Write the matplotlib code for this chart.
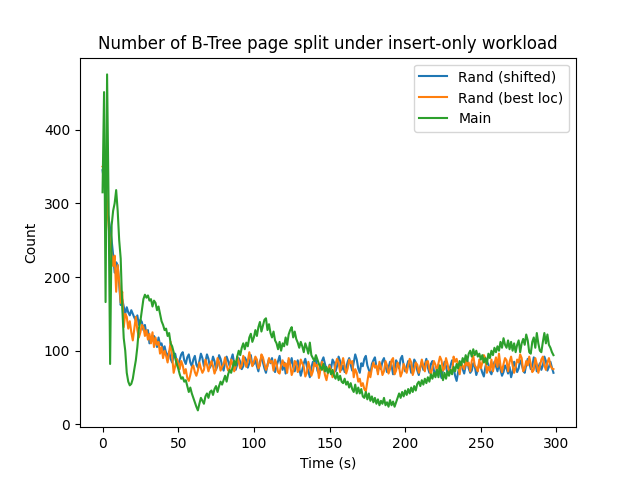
import numpy as np
import matplotlib
matplotlib.use("Agg")
import matplotlib.pyplot as plt

rand_shifted = [
    345, 330, 310, 290, 280, 266, 250, 230, 206, 220,
    216, 190, 162, 170, 160, 150, 159, 152, 148, 155,
    150, 145, 141, 148, 135, 142, 139, 128, 135, 122,
    128, 110, 118, 114, 120, 114, 105, 118, 108, 110,
    100, 106, 97, 92, 99, 89, 84, 93, 96, 86,
    80, 88, 95, 98, 87, 82, 91, 95, 84, 79,
    88, 93, 81, 77, 86, 96, 90, 79, 85, 95,
    89, 77, 82, 92, 86, 74, 80, 94, 89, 80,
    73, 84, 92, 86, 79, 88, 95, 83, 74, 81,
    90, 85, 75, 79, 91, 87, 77, 83, 94, 80,
    82, 88, 79, 72, 85, 91, 84, 76, 70, 81,
    89, 83, 90, 77, 71, 79, 86, 93, 80, 74,
    84, 69, 75, 87, 82, 90, 78, 72, 80, 87,
    76, 66, 74, 83, 89, 79, 72, 64, 77, 85,
    80, 88, 73, 69, 78, 86, 91, 82, 75, 70,
    81, 76, 88, 84, 72, 79, 92, 86, 74, 80,
    71, 77, 85, 90, 81, 73, 84, 95, 88, 76,
    70, 83, 79, 89, 93, 80, 74, 68, 82, 87,
    91, 78, 72, 81, 75, 86, 90, 79, 71, 77,
    85, 80, 68, 74, 87, 83, 76, 89, 93, 80,
    72, 79, 86, 81, 70, 76, 88, 84, 73, 67,
    78, 85, 74, 81, 89, 77, 70, 82, 86, 73,
    66, 75, 81, 70, 63, 74, 85, 79, 68, 73,
    80, 87, 76, 66, 59, 71, 78, 84, 75, 69,
    80, 88, 76, 70, 73, 83, 79, 67, 74, 84,
    77, 70, 65, 78, 86, 81, 72, 68, 76, 85,
    79, 72, 83, 74, 66, 71, 80, 76, 69, 78,
    64, 72, 85, 79, 71, 76, 87, 82, 73, 70,
    81, 89, 84, 75, 79, 91, 85, 72, 77, 83,
    74, 80, 92, 86, 73, 78, 85, 77, 70,
]

rand_best = [
    350, 352, 330, 300, 270, 245, 230, 215, 229, 180,
    216, 195, 165, 180, 132, 150, 146, 130, 140, 125,
    114, 130, 146, 128, 118, 125, 135, 132, 120, 128,
    115, 123, 110, 125, 105, 118, 108, 112, 96, 105,
    90, 100, 93, 84, 98, 112, 92, 70, 79, 89,
    84, 75, 86, 80, 69, 75, 63, 59, 67, 77,
    80, 71, 66, 73, 84, 76, 70, 74, 88, 81,
    72, 80, 86, 79, 69, 75, 90, 84, 73, 78,
    82, 91, 80, 73, 76, 88, 81, 72, 79, 92,
    85, 76, 80, 93, 85, 78, 86, 98, 87, 79,
    85, 92, 88, 76, 80, 95, 91, 82, 74, 79,
    90, 84, 86, 73, 88, 82, 71, 69, 80, 87,
    79, 83, 70, 90, 81, 67, 73, 86, 84, 71,
    75, 88, 83, 78, 65, 70, 85, 77, 66, 72,
    84, 79, 81, 63, 74, 85, 78, 67, 60, 71,
    80, 73, 64, 70, 82, 89, 84, 71, 81, 90,
    79, 69, 76, 88, 83, 86, 64, 75, 70, 58,
    62, 52, 56, 48, 45, 58, 71, 64, 76, 84,
    77, 80, 68, 85, 78, 67, 72, 86, 80, 69,
    75, 87, 90, 68, 73, 84, 78, 65, 71, 82,
    76, 70, 80, 89, 84, 67, 74, 84, 81, 70,
    77, 88, 79, 72, 85, 86, 75, 68, 77, 86,
    81, 72, 83, 92, 87, 73, 76, 90, 82, 71,
    74, 70, 92, 85, 89, 80, 68, 83, 79, 75,
    88, 80, 84, 72, 86, 93, 80, 77, 72, 88,
    76, 84, 94, 90, 70, 78, 73, 88, 72, 82,
    91, 78, 96, 80, 71, 82, 90, 87, 72, 85,
    92, 80, 70, 78, 88, 84, 95, 90, 72, 76,
    86, 80, 92, 82, 71, 74, 90, 82, 70, 78,
    88, 92, 80, 74, 84, 90, 80, 76, 75,
]

main = [
    315, 451, 166, 475, 300, 82, 270, 290, 300, 318,
    290, 250, 225, 160, 117, 100, 70, 58, 53, 55,
    62, 75, 87, 105, 130, 140, 155, 170, 176, 172,
    175, 168, 170, 160, 168, 165, 155, 160, 150, 140,
    135, 128, 130, 120, 124, 110, 106, 98, 90, 82,
    76, 68, 62, 64, 58, 60, 52, 44, 50, 42,
    36, 30, 24, 19, 28, 36, 32, 28, 38, 42,
    36, 44, 46, 40, 48, 52, 44, 52, 58, 54,
    60, 66, 58, 68, 74, 70, 78, 86, 80, 92,
    100, 94, 104, 110, 102, 111, 106, 118, 123, 112,
    118, 128, 120, 132, 139, 126, 134, 142, 144, 128,
    136, 124, 118, 126, 114, 110, 102, 112, 100, 110,
    106, 118, 108, 122, 128, 132, 118, 126, 116, 111,
    104, 112, 106, 98, 110, 104, 96, 111, 94, 90,
    86, 94, 88, 82, 78, 74, 82, 72, 78, 70,
    76, 68, 74, 66, 62, 70, 60, 66, 58, 56,
    62, 54, 58, 50, 56, 48, 44, 54, 42, 50,
    42, 48, 38, 36, 44, 34, 42, 32, 38, 30,
    36, 28, 34, 26, 32, 28, 36, 26, 30, 24,
    33, 26, 31, 24, 30, 36, 42, 36, 44, 38,
    46, 40, 48, 42, 50, 44, 52, 46, 55, 58,
    52, 60, 54, 62, 56, 64, 58, 68, 62, 70,
    64, 74, 64, 80, 70, 60, 70, 62, 72, 66,
    74, 68, 78, 72, 82, 76, 86, 80, 90, 84,
    94, 86, 96, 100, 92, 102, 94, 100, 92, 96,
    88, 94, 84, 90, 82, 96, 90, 100, 94, 104,
    98, 106, 100, 112, 104, 117, 108, 104, 114, 102,
    112, 100, 110, 98, 108, 114, 98, 110, 116, 108,
    122, 114, 98, 96, 112, 118, 104, 124, 110, 100,
    98, 112, 124, 110, 122, 108, 104, 98, 94,
]

labels = ["Rand (shifted)", "Rand (best loc)", "Main"]

fig, ax = plt.subplots(figsize=(6.4, 4.8), dpi=100)
for series, lab in zip([rand_shifted, rand_best, main], labels):
    ax.plot(np.arange(len(series)), series, label=lab)
ax.set_title("Number of B-Tree page split under insert-only workload")
ax.set_xlabel("Time (s)")
ax.set_ylabel("Count")
ax.legend(loc="upper right")
fig.savefig("out.png")
